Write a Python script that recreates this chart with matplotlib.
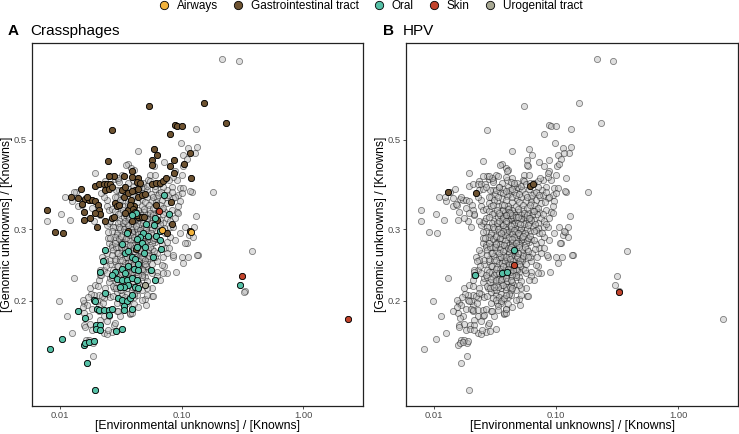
import matplotlib
matplotlib.use("Agg")
import matplotlib.pyplot as plt
from matplotlib.lines import Line2D
from matplotlib.ticker import NullLocator, FixedLocator, FixedFormatter

plt.rcParams['font.family'] = ['Liberation Sans', 'DejaVu Sans']

site_names = ["Airways", "Gastrointestinal tract", "Oral", "Skin", "Urogenital tract"]
site_colors = ["#F2B33D", "#6E5331", "#55C0A6", "#C2432B", "#A8A893"]

x_ticks = [0.01, 0.1, 1.0]
x_tick_labels = ["0.01", "0.10", "1.00"]
y_ticks = [0.2, 0.3, 0.5]
y_tick_labels = ["0.2", "0.3", "0.5"]

panel_titles = ["Crassphages", "HPV"]
panel_tags = ["A", "B"]

# ---- Panel A (crAssphage detected), coloured by body site: (env ratio, genomic ratio)
crass_airways = [(0.0685, 0.299), (0.119, 0.295)]
crass_skin = [(0.0655, 0.334), (0.315, 0.230), (2.34, 0.180)]
crass_uro = [(0.0500, 0.218)]
crass_gi = [
    (0.0542,0.608),(0.154,0.617),(0.232,0.552),(0.0270,0.530),(0.0882,0.545),(0.0910,0.540),(0.100,0.541),(0.0802,0.517),(0.117,0.463),(0.0596,0.476),
    (0.0630,0.459),(0.0577,0.446),(0.0577,0.434),(0.0802,0.431),(0.0873,0.446),(0.105,0.436),(0.0864,0.413),(0.120,0.403),(0.0250,0.444),(0.0281,0.407),
    (0.0251,0.407),(0.0195,0.385),(0.0208,0.388),(0.0229,0.388),(0.0244,0.388),(0.0260,0.389),(0.0149,0.377),(0.0124,0.361),(0.0142,0.359),(0.0162,0.357),
    (0.0172,0.355),(0.0183,0.354),(0.0195,0.353),(0.0152,0.347),(0.0167,0.361),(0.0205,0.345),(0.0208,0.336),(0.0214,0.328),(0.0159,0.331),(0.0177,0.320),
    (0.0157,0.317),(0.0195,0.329),(0.0201,0.305),(0.0236,0.315),(0.0267,0.320),(0.0281,0.323),(0.0233,0.376),(0.0251,0.377),(0.0267,0.383),(0.0285,0.348),
    (0.0294,0.342),(0.0307,0.345),(0.0334,0.362),(0.0323,0.376),(0.0340,0.382),(0.0366,0.369),(0.0386,0.355),(0.0416,0.376),(0.0437,0.362),(0.0404,0.342),
    (0.0366,0.335),(0.0390,0.404),(0.0437,0.402),(0.0334,0.406),(0.00782,0.335),(0.00904,0.295),(0.0106,0.294),(0.0344,0.329),(0.0378,0.345),(0.0416,0.326),
    (0.0442,0.323),(0.0390,0.314),(0.0366,0.297),(0.0394,0.419),(0.0427,0.394),(0.0455,0.392),(0.0567,0.388),(0.0615,0.390),(0.0664,0.392),(0.0707,0.396),
    (0.0744,0.402),(0.0439,0.377),(0.0469,0.365),(0.0500,0.367),(0.0388,0.373),(0.0401,0.338),(0.0414,0.332),(0.0432,0.326),(0.0469,0.323),(0.0491,0.322),
    (0.0615,0.345),(0.0623,0.317),(0.0818,0.350),(0.0827,0.310),(0.117,0.298),(0.0762,0.294),(0.0422,0.269),
]
crass_oral = [
    (0.0720,0.366),(0.0787,0.328),(0.0604,0.321),(0.0422,0.329),(0.0388,0.326),(0.0510,0.310),(0.0593,0.308),(0.0664,0.297),(0.0484,0.294),(0.0455,0.288),
    (0.0532,0.289),(0.0615,0.289),(0.0664,0.283),(0.0432,0.284),(0.0469,0.277),(0.0427,0.272),(0.0500,0.272),(0.0491,0.263),(0.0585,0.257),(0.0672,0.268),
    (0.0556,0.238),(0.0604,0.225),(0.0355,0.294),(0.0323,0.276),(0.0236,0.267),(0.0344,0.262),(0.0366,0.265),(0.0390,0.257),(0.0416,0.253),(0.0437,0.247),
    (0.0226,0.250),(0.0366,0.243),(0.0404,0.239),(0.0442,0.238),(0.0325,0.240),(0.0344,0.234),(0.0285,0.236),(0.0268,0.232),(0.0294,0.226),(0.0325,0.225),
    (0.0355,0.225),(0.0390,0.227),(0.0430,0.225),(0.0214,0.236),(0.0366,0.219),(0.0334,0.216),(0.0313,0.216),(0.0416,0.216),(0.0437,0.215),(0.0189,0.201),
    (0.0195,0.199),(0.0233,0.209),(0.0302,0.203),(0.0325,0.201),(0.0355,0.200),(0.0378,0.203),(0.0390,0.206),(0.0334,0.194),(0.0390,0.191),(0.0334,0.189),
    (0.0201,0.191),(0.0208,0.189),(0.0229,0.189),(0.0251,0.190),(0.0268,0.191),(0.0255,0.184),(0.0142,0.188),(0.0162,0.181),(0.0198,0.174),(0.0214,0.174),
    (0.0198,0.170),(0.0214,0.169),(0.0290,0.168),(0.0323,0.170),(0.0104,0.161),(0.0157,0.155),(0.0162,0.157),(0.0174,0.158),(0.0191,0.159),(0.00832,0.152),
    (0.0167,0.140),(0.0195,0.120),(0.304,0.218),
]

# ---- Panel B (HPV detected), coloured by body site
hpv_gi = [(0.0130, 0.371), (0.0219, 0.370), (0.0608, 0.385), (0.0649, 0.388)]
hpv_oral = [(0.0217, 0.232), (0.0360, 0.234), (0.0395, 0.236), (0.0457, 0.267)]
hpv_skin = [(0.0449, 0.245), (0.328, 0.210)]

# ---- Remaining samples (grey in both panels)
other_samples = [
    (0.217,0.792),(0.294,0.786),(0.132,0.533),(0.0987,0.491),(0.0437,0.469),(0.114,0.477),(0.129,0.463),(0.133,0.481),(0.103,0.459),(0.110,0.449),
    (0.0720,0.442),(0.0882,0.419),(0.100,0.410),(0.0910,0.398),(0.121,0.372),(0.182,0.371),(0.0969,0.379),(0.103,0.381),(0.0939,0.366),(0.0854,0.358),
    (0.0969,0.352),(0.0939,0.342),(0.0753,0.348),(0.0827,0.335),(0.0910,0.332),(0.0730,0.332),(0.0685,0.338),(0.0753,0.320),(0.0882,0.321),(0.131,0.324),
    (0.126,0.305),(0.115,0.291),(0.110,0.278),(0.0882,0.283),(0.0730,0.270),(0.0793,0.270),(0.0854,0.257),(0.100,0.257),(0.137,0.259),(0.103,0.248),
    (0.0715,0.243),(0.0893,0.236),(0.0753,0.234),(0.0623,0.236),(0.0532,0.240),(0.0500,0.236),(0.0455,0.234),(0.0500,0.229),(0.0455,0.219),(0.0577,0.205),
    (0.0500,0.202),(0.0510,0.195),(0.0388,0.191),(0.0376,0.185),(0.0802,0.288),(0.0969,0.294),(0.0939,0.329),(0.0707,0.311),(0.0643,0.305),(0.0604,0.280),
    (0.0802,0.305),(0.331,0.211),(0.380,0.265),(0.0130,0.227),(0.00975,0.199),(0.0114,0.183),(0.0125,0.166),(0.0187,0.146),(0.0159,0.197),(0.0177,0.215),
    (0.0195,0.219),(0.0208,0.225),(0.0214,0.232),(0.0229,0.238),(0.0221,0.257),(0.0244,0.262),(0.0251,0.277),(0.0267,0.275),(0.0285,0.283),(0.0294,0.291),
    (0.0303,0.272),(0.0259,0.247),(0.0285,0.250),(0.0294,0.243),(0.0251,0.222),(0.0236,0.215),(0.0243,0.208),(0.0276,0.215),(0.0259,0.204),(0.0229,0.203),
    (0.0208,0.206),(0.0189,0.206),(0.0208,0.195),(0.0183,0.191),(0.0167,0.195),(0.0157,0.186),(0.0172,0.183),(0.0159,0.174),(0.0177,0.175),(0.0229,0.183),
    (0.0251,0.183),(0.0229,0.166),(0.0267,0.167),(0.0165,0.160),(0.0243,0.178),(0.0276,0.174),(0.0294,0.188),(0.0313,0.183),(0.0378,0.186),(0.0404,0.196),
    (0.0390,0.229),(0.0303,0.222),(0.0313,0.212),(0.0404,0.204),(0.00782,0.315),(0.0103,0.328),(0.0193,0.414),(0.0135,0.372),(0.0111,0.362),(0.0360,0.436),
    (0.0285,0.400),(0.0303,0.398),(0.0323,0.410),(0.0236,0.395),(0.0307,0.393),(0.0344,0.383),(0.0386,0.425),(0.0404,0.422),(0.0142,0.342),(0.0125,0.352),
    (0.0183,0.339),(0.0244,0.342),(0.0251,0.335),(0.0267,0.338),(0.0244,0.355),(0.0229,0.362),(0.0307,0.376),(0.0251,0.311),(0.0285,0.305),(0.0313,0.314),
    (0.0294,0.294),(0.0323,0.288),(0.0344,0.302),(0.0390,0.299),(0.0430,0.294),(0.0549,0.410),(0.0604,0.410),(0.0532,0.398),(0.0500,0.379),(0.0401,0.383),
    (0.0589,0.430),(0.0350,0.434),(0.0271,0.408),(0.0301,0.402),(0.102,0.431),(0.118,0.374),(0.106,0.305),(0.135,0.259),(0.112,0.257),(0.0664,0.225),
    (0.0567,0.215),(0.0585,0.205),(0.0439,0.193),(0.0181,0.208),(0.0171,0.204),(0.0155,0.201),(0.0188,0.157),(0.0182,0.169),(0.0242,0.165),(0.0353,0.197),
    (0.0327,0.197),(0.0283,0.176),(0.0249,0.169),(0.0153,0.344),(0.0121,0.317),(0.0190,0.314),(0.0213,0.326),(0.0242,0.307),(0.0258,0.314),(0.0274,0.305),
    (0.0266,0.272),(0.0258,0.252),(0.0213,0.238),(0.0207,0.217),(0.0274,0.217),(0.0220,0.205),(0.0227,0.197),(0.0274,0.205),(0.0292,0.197),(0.0301,0.188),
    (0.0213,0.179),(0.0175,0.160),(0.0160,0.172),(0.0155,0.193),(0.0388,0.186),(0.0200,0.199),(0.0210,0.188),(0.0854,0.405),(0.0784,0.398),(0.0827,0.383),
    (0.0762,0.376),(0.100,0.369),(0.0882,0.362),(0.0802,0.314),(0.0854,0.305),(0.107,0.278),(0.125,0.288),(0.0843,0.259),(0.0707,0.234),
    (0.0288,0.375),(0.0315,0.368),(0.0349,0.372),(0.0371,0.378),(0.0414,0.367),(0.0449,0.372),(0.0478,0.382),(0.0523,0.375),(0.0556,0.368),(0.0604,0.377),
    (0.0656,0.370),(0.0707,0.382),(0.0296,0.361),(0.0326,0.352),(0.0360,0.359),(0.0396,0.364),(0.0433,0.350),(0.0475,0.356),(0.0516,0.361),(0.0567,0.352),
    (0.0623,0.359),(0.0685,0.355),(0.0744,0.362),(0.0283,0.334),(0.0311,0.329),(0.0336,0.322),(0.0371,0.324),(0.0406,0.320),(0.0449,0.316),(0.0494,0.332),
    (0.0539,0.337),(0.0585,0.329),(0.0643,0.334),(0.0698,0.328),(0.0301,0.312),(0.0328,0.306),(0.0358,0.311),(0.0388,0.305),(0.0422,0.308),(0.0461,0.302),
    (0.0510,0.299),(0.0556,0.302),(0.0612,0.298),(0.0716,0.302),(0.0283,0.288),(0.0307,0.284),(0.0336,0.280),(0.0364,0.284),(0.0396,0.277),(0.0433,0.280),
    (0.0469,0.287),(0.0516,0.283),(0.0567,0.277),(0.0623,0.284),(0.0685,0.276),(0.0753,0.280),(0.0274,0.267),(0.0296,0.262),(0.0321,0.266),(0.0353,0.271),
    (0.0381,0.267),(0.0414,0.262),(0.0449,0.266),(0.0491,0.257),(0.0532,0.262),(0.0577,0.268),(0.0631,0.262),(0.0698,0.257),(0.0753,0.262),(0.0283,0.254),
    (0.0311,0.252),(0.0342,0.248),(0.0371,0.252),(0.0406,0.247),(0.0441,0.252),(0.0478,0.245),(0.0523,0.250),(0.0567,0.247),(0.0623,0.251),(0.0685,0.245),
    (0.0274,0.238),(0.0301,0.235),(0.0336,0.229),(0.0364,0.236),(0.0396,0.235),(0.0427,0.230),(0.0469,0.229),(0.0516,0.224),(0.0567,0.234),(0.0623,0.230),
    (0.0258,0.227),(0.0288,0.222),(0.0321,0.219),(0.0353,0.215),(0.0388,0.221),(0.0427,0.218),(0.0469,0.212),(0.0516,0.215),(0.0292,0.210),(0.0321,0.206),
    (0.0353,0.208),(0.0388,0.212),(0.0427,0.206),(0.0469,0.201),(0.0516,0.207),(0.0242,0.234),(0.0234,0.252),(0.0250,0.285),(0.0266,0.297),(0.0549,0.323),
    (0.0664,0.317),(0.0730,0.294),(0.0778,0.366),(0.0827,0.372),(0.0567,0.314),(0.0516,0.320),(0.0455,0.329),(0.0364,0.335),(0.0332,0.342),(0.0311,0.355),
    (0.0283,0.362),
    (0.031,0.300),(0.034,0.296),(0.037,0.290),(0.040,0.292),(0.043,0.300),(0.046,0.296),(0.049,0.305),(0.053,0.296),(0.057,0.290),(0.033,0.312),
    (0.036,0.318),(0.039,0.312),(0.042,0.318),(0.045,0.310),(0.048,0.316),(0.052,0.326),(0.056,0.322),(0.060,0.313),(0.035,0.326),(0.038,0.332),
    (0.041,0.340),(0.044,0.336),(0.047,0.343),(0.050,0.350),(0.054,0.345),(0.058,0.340),(0.062,0.350),(0.066,0.345),(0.036,0.345),(0.033,0.336),
    (0.030,0.328),(0.029,0.272),(0.032,0.278),(0.035,0.276),(0.038,0.282),(0.041,0.274),(0.044,0.278),(0.047,0.270),(0.050,0.278),(0.054,0.284),
    (0.058,0.282),(0.031,0.258),(0.034,0.256),(0.037,0.260),(0.040,0.254),(0.043,0.258),(0.046,0.262),(0.049,0.250),(0.053,0.255),(0.057,0.260),
    (0.061,0.256),(0.030,0.244),(0.033,0.242),(0.036,0.248),(0.039,0.244),(0.042,0.242),(0.045,0.244),(0.048,0.238),(0.051,0.243),(0.027,0.229),
    (0.031,0.231),(0.034,0.226),(0.037,0.230),(0.040,0.224),(0.044,0.222),(0.047,0.232),(0.029,0.215),(0.032,0.213),(0.036,0.218),(0.039,0.216),
    (0.043,0.212),(0.034,0.204),(0.037,0.202),(0.041,0.208),(0.045,0.386),(0.048,0.392),(0.052,0.384),(0.055,0.395),(0.040,0.398),(0.036,0.390),
    (0.058,0.360),(0.064,0.365),(0.068,0.372),(0.071,0.340),(0.063,0.325),(0.067,0.310),(0.026,0.286),(0.027,0.260),(0.024,0.244),(0.025,0.296),
    (0.0305,0.305),(0.0335,0.301),(0.0365,0.307),(0.0395,0.296),(0.0425,0.306),(0.0455,0.299),(0.0485,0.311),(0.0515,0.303),(0.0545,0.309),(0.0575,0.300),
    (0.0320,0.289),(0.0350,0.285),(0.0380,0.291),(0.0410,0.287),(0.0440,0.293),(0.0470,0.283),(0.0500,0.290),(0.0530,0.287),(0.0560,0.294),(0.0595,0.286),
    (0.0315,0.272),(0.0345,0.268),(0.0375,0.275),(0.0405,0.270),(0.0435,0.273),(0.0465,0.265),(0.0495,0.274),(0.0525,0.268),(0.0555,0.272),(0.0590,0.266),
    (0.0325,0.252),(0.0355,0.257),(0.0385,0.250),(0.0415,0.256),(0.0445,0.250),(0.0475,0.257),(0.0505,0.252),(0.0540,0.258),(0.0300,0.262),(0.0285,0.278),
    (0.0340,0.314),(0.0370,0.320),(0.0400,0.326),(0.0430,0.320),(0.0460,0.326),(0.0490,0.338),(0.0520,0.318),(0.0550,0.330),(0.0580,0.326),(0.0610,0.320),
    (0.0350,0.240),(0.0380,0.238),(0.0410,0.246),(0.0440,0.232),(0.0470,0.240),(0.0500,0.246),(0.0325,0.234),(0.0360,0.228),(0.0390,0.232),(0.0420,0.236),
]

all_samples = (other_samples + crass_airways + crass_skin + crass_uro + crass_gi
               + crass_oral + hpv_gi + hpv_oral + hpv_skin)

crass_layers = [(crass_uro, 4), (crass_gi, 1), (crass_oral, 2), (crass_airways, 0), (crass_skin, 3)]
hpv_layers = [(hpv_gi, 1), (hpv_oral, 2), (hpv_skin, 3)]

W, H = 739, 434
fig = plt.figure(figsize=(W / 100, H / 100), dpi=100)
axA = fig.add_axes([32 / W, 28 / H, 331 / W, 363 / H])
axB = fig.add_axes([406 / W, 28 / H, 332 / W, 363 / H])

for ax, aw, layers, tag, title, tag_x, title_x in [
        (axA, 331, crass_layers, panel_tags[0], panel_titles[0], 8, 30),
        (axB, 332, hpv_layers, panel_tags[1], panel_titles[1], 383, 403)]:
    gx = [p[0] for p in all_samples]
    gy = [p[1] for p in all_samples]
    ax.scatter(gx, gy, s=20, facecolor=(0.745, 0.745, 0.745, 0.5),
               edgecolor=(0, 0, 0, 0.47), linewidth=0.6, zorder=2)
    for pts, ci in layers:
        ax.scatter([p[0] for p in pts], [p[1] for p in pts], s=20,
                   facecolor=site_colors[ci], edgecolor='black', linewidth=0.6, zorder=3)
    ax.set_xscale('log')
    ax.set_yscale('log')
    ax.set_xlim(0.0059, 3.1)
    ax.set_ylim(0.1096, 0.869)
    ax.xaxis.set_major_locator(FixedLocator(x_ticks))
    ax.xaxis.set_major_formatter(FixedFormatter(x_tick_labels))
    ax.yaxis.set_major_locator(FixedLocator(y_ticks))
    ax.yaxis.set_major_formatter(FixedFormatter(y_tick_labels))
    ax.xaxis.set_minor_locator(NullLocator())
    ax.yaxis.set_minor_locator(NullLocator())
    ax.tick_params(length=2.5, width=0.6, color='#333333', labelsize=6.8,
                   labelcolor='#4d4d4d', pad=1.0)
    for sp in ax.spines.values():
        sp.set_linewidth(0.9)
        sp.set_color('#222222')
    ax.set_xlabel("[Environmental unknowns] / [Knowns]", fontsize=8.8, va='center')
    ax.xaxis.set_label_coords(0.5, -(426.5 - 406) / 363)
    ax.set_ylabel("[Genomic unknowns] / [Knowns]", fontsize=8.8, va='center')
    ax.yaxis.set_label_coords(-(25 / aw), 0.5)
    fig.text(tag_x / W, 1 - 31 / H, tag, fontsize=11, fontweight='bold', va='center', ha='left')
    fig.text(title_x / W, 1 - 31 / H, title, fontsize=11, va='center', ha='left')

handles = [Line2D([], [], marker='o', linestyle='', markersize=6,
                  markerfacecolor=c, markeredgecolor='black', markeredgewidth=0.6)
           for c in site_colors]
fig.legend(handles, site_names, loc='upper center', bbox_to_anchor=(0.5, 1.025),
           ncol=5, frameon=False, fontsize=8.5, handletextpad=0.5,
           columnspacing=1.1, handlelength=1.2)

fig.savefig("out.png", dpi=100)
